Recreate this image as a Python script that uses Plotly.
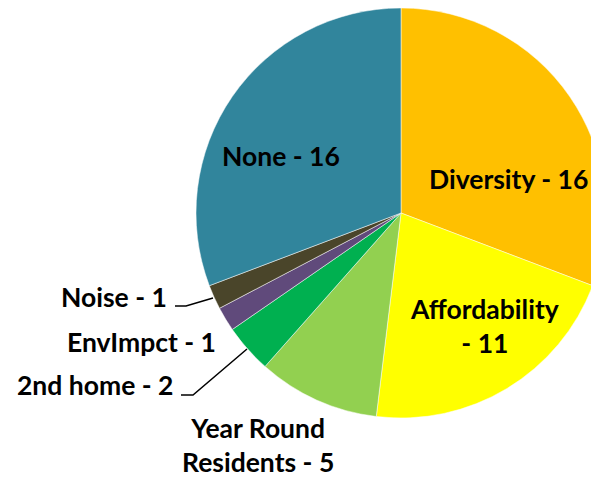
import plotly.graph_objects as go

labels = ["Diversity", "Affordability", "Year Round Residents", "2nd home", "EnvImpct", "Noise", "None"]
values = [16, 11, 5, 2, 1, 1, 16]
display_text = ["Diversity - 16", "Affordability<br>- 11", "Year Round<br>Residents - 5",
                "2nd home - 2", "EnvImpct - 1", "Noise - 1", "None - 16"]
colors = ["#FFC000", "#FFFF00", "#92D050", "#00B050", "#604A7B", "#4A452A", "#31859C"]

W, H = 599, 480
OFF = 8  # page body margin
cx, cy, r = 393, 205, 205  # figure pixel coordinates


def px(x):
    return (x - OFF) / W


def py(y):
    return 1 - (y - OFF) / H


fig = go.Figure(go.Pie(
    labels=labels,
    values=values,
    textinfo="none",
    marker=dict(colors=colors, line=dict(color="white", width=0.5)),
    sort=False,
    direction="clockwise",
    rotation=0,
    domain=dict(x=[(cx - r) / W, (cx + r) / W], y=[1 - (cy + r) / H, 1 - (cy - r) / H]),
    showlegend=False,
    hoverinfo="skip",
))

# label placements in page pixel coordinates: (x, y, xanchor)
label_pos = {
    "Diversity": (508, 179, "center"),
    "Affordability": (484, 326, "center"),
    "Year Round Residents": (258, 445, "center"),
    "2nd home": (175, 385, "right"),
    "EnvImpct": (218, 342, "right"),
    "Noise": (169, 297, "right"),
    "None": (281, 156, "center"),
}
font = dict(family="Lato", size=26.5, color="black", weight="bold")
for lab, txt in zip(labels, display_text):
    x, y, xa = label_pos[lab]
    fig.add_annotation(x=px(x), y=py(y), xref="paper", yref="paper", text=txt,
                       showarrow=False, xanchor=xa, yanchor="middle", font=font,
                       align="center")

# leader lines (page pixel coordinates)
leaders = [
    [(175, 306), (186, 306), (213, 298)],
    [(181, 395), (193, 395), (247, 349)],
]
for pts in leaders:
    path = "M " + " L ".join(f"{px(x)},{py(y)}" for x, y in pts)
    fig.add_shape(type="path", path=path, xref="paper", yref="paper",
                  line=dict(color="black", width=1.5))

fig.update_layout(width=W, height=H, margin=dict(l=0, r=0, t=0, b=0),
                  paper_bgcolor="white", plot_bgcolor="white")
fig.write_html("out.html")
